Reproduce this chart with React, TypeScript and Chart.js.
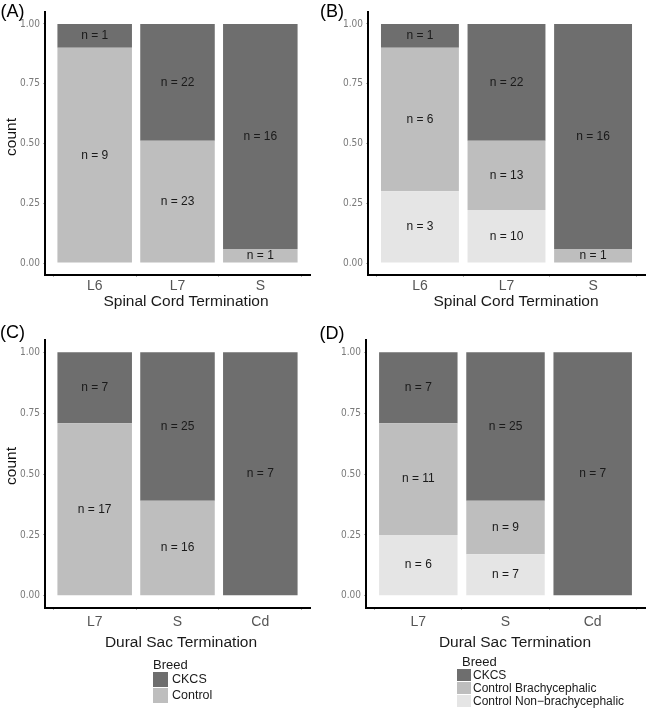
import React, { useEffect, useRef } from 'react';
import { Chart, registerables } from 'chart.js';
Chart.register(...registerables);

// ---------- data ----------
const spinalLevels = ['L6', 'L7', 'S'];
const duralLevels = ['L7', 'S', 'Cd'];

const spinalCKCS = [1, 22, 16];
const spinalControl = [9, 23, 1];
const spinalBrachy = [6, 13, 1];
const spinalNonBrachy = [3, 10, 0];

const duralCKCS = [7, 25, 7];
const duralControl = [17, 16, 0];
const duralBrachy = [11, 9, 0];
const duralNonBrachy = [6, 7, 0];

const yTickValues = [0, 0.25, 0.5, 0.75, 1];

const breedCKCS = 'CKCS';
const breedControl = 'Control';
const breedBrachy = 'Control Brachycephalic';
const breedNonBrachy = 'Control Non\u2212brachycephalic';
const legendTitle = 'Breed';

const spinalTitle = 'Spinal Cord Termination';
const duralTitle = 'Dural Sac Termination';
const yTitle = 'count';

// ---------- styles ----------
const DARK = '#6e6e6e';
const MID = '#bebebe';
const LIGHT = '#e5e5e5';
const SANS = '"Liberation Sans", Arial, sans-serif';
const NARROW = '"Liberation Sans Narrow", "DejaVu Sans Condensed", "Liberation Sans", sans-serif';

type Series = { name: string; counts: number[]; color: string };
type Panel = {
  cats: string[];
  series: Series[]; // bottom first
  box: { left: number; top: number; width: number; height: number };
  area: { left: number; top: number; right: number; bottom: number };
  xPad: number;
};

const panels: Panel[] = [
  {
    cats: spinalLevels,
    series: [
      { name: breedControl, counts: spinalControl, color: MID },
      { name: breedCKCS, counts: spinalCKCS, color: DARK },
    ],
    box: { left: 0, top: 0, width: 320, height: 300 },
    area: { left: 45, top: 12, right: 310, bottom: 275 },
    xPad: 1,
  },
  {
    cats: spinalLevels,
    series: [
      { name: breedNonBrachy, counts: spinalNonBrachy, color: LIGHT },
      { name: breedBrachy, counts: spinalBrachy, color: MID },
      { name: breedCKCS, counts: spinalCKCS, color: DARK },
    ],
    box: { left: 320, top: 0, width: 326, height: 300 },
    area: { left: 48, top: 12, right: 325, bottom: 275 },
    xPad: 1,
  },
  {
    cats: duralLevels,
    series: [
      { name: breedControl, counts: duralControl, color: MID },
      { name: breedCKCS, counts: duralCKCS, color: DARK },
    ],
    box: { left: 0, top: 320, width: 320, height: 315 },
    area: { left: 45, top: 20, right: 310, bottom: 288 },
    xPad: 4,
  },
  {
    cats: duralLevels,
    series: [
      { name: breedNonBrachy, counts: duralNonBrachy, color: LIGHT },
      { name: breedBrachy, counts: duralBrachy, color: MID },
      { name: breedCKCS, counts: duralCKCS, color: DARK },
    ],
    box: { left: 320, top: 320, width: 326, height: 315 },
    area: { left: 46, top: 20, right: 325, bottom: 288 },
    xPad: 4,
  },
];

function PanelChart({ p }: { p: Panel }) {
  const ref = useRef<HTMLCanvasElement | null>(null);
  useEffect(() => {
    if (!ref.current) return;
    const totals = p.cats.map((_, i) => p.series.reduce((s, se) => s + se.counts[i], 0));
    const labelPlugin = {
      id: 'nLabels',
      afterDatasetsDraw(chart: any) {
        const ctx = chart.ctx;
        ctx.save();
        ctx.font = `12px ${SANS}`;
        ctx.fillStyle = '#1a1a1a';
        ctx.textAlign = 'center';
        ctx.textBaseline = 'middle';
        p.series.forEach((se, di) => {
          const meta = chart.getDatasetMeta(di);
          meta.data.forEach((bar: any, i: number) => {
            const c = se.counts[i];
            if (!c) return;
            const { x, y, base } = bar.getProps(['x', 'y', 'base'], true);
            ctx.fillText(`n = ${c}`, x, (y + base) / 2);
          });
        });
        ctx.restore();
      },
    };
    const tickGrid = {
      display: true,
      drawOnChartArea: false,
      drawTicks: true,
      tickLength: 2,
      tickColor: '#b0b0b0',
      tickWidth: 1,
    };
    const chart = new Chart(ref.current, {
      type: 'bar',
      data: {
        datasets: p.series.map((se) => ({
          label: se.name,
          data: se.counts.map((c, i) => ({ x: i + 1, y: c / totals[i] })),
          backgroundColor: se.color,
          borderWidth: 0,
          barPercentage: 0.9,
          categoryPercentage: 1,
        })),
      } as any,
      options: {
        animation: false,
        responsive: false,
        maintainAspectRatio: false,
        layout: {
          padding: { top: p.area.top, left: 0, right: p.box.width - p.area.right, bottom: 0 },
        },
        plugins: { legend: { display: false }, tooltip: { enabled: false } },
        scales: {
          x: {
            type: 'linear',
            stacked: true,
            min: 0.4,
            max: p.cats.length + 0.6,
            offset: false,
            grid: tickGrid,
            border: { display: true, color: '#000', width: 2 },
            afterBuildTicks: (s: any) => {
              s.ticks = p.cats.map((_, i) => ({ value: i + 1 }));
            },
            afterFit: (s: any) => {
              s.height = p.box.height - p.area.bottom;
            },
            ticks: {
              autoSkip: false,
              maxRotation: 0,
              padding: p.xPad,
              color: '#555555',
              font: { family: SANS, size: 14 },
              callback: (v: any) => p.cats[Math.round(v) - 1] ?? '',
            },
          },
          y: {
            type: 'linear',
            stacked: true,
            min: -0.05,
            max: 1.05,
            grid: tickGrid,
            border: { display: true, color: '#000', width: 2 },
            afterBuildTicks: (s: any) => {
              s.ticks = yTickValues.map((v) => ({ value: v }));
            },
            afterFit: (s: any) => {
              s.width = p.area.left;
            },
            ticks: {
              padding: 3,
              color: '#7a7a7a',
              font: { family: NARROW, size: 10 },
              callback: (v: any) => Number(v).toFixed(2),
            },
          },
        },
      } as any,
      plugins: [labelPlugin],
    });
    return () => chart.destroy();
  }, [p]);
  return (
    <canvas
      ref={ref}
      width={p.box.width}
      height={p.box.height}
      style={{ position: 'absolute', left: p.box.left, top: p.box.top, width: p.box.width, height: p.box.height }}
    />
  );
}

function Txt({ x, y, size, color = '#000', children, rotate, align = 'center' }: any) {
  const tx = align === 'center' ? '-50%' : '0';
  return (
    <div
      style={{
        position: 'absolute',
        left: x,
        top: y,
        transform: `translate(${tx}, -50%)${rotate ? ` rotate(${rotate}deg)` : ''}`,
        transformOrigin: align === 'center' ? '50% 50%' : '0 50%',
        fontFamily: SANS,
        fontSize: size,
        color,
        whiteSpace: 'nowrap',
        lineHeight: 1,
      }}
    >
      {children}
    </div>
  );
}

function Swatch({ x, y, w, h, color }: any) {
  return <div style={{ position: 'absolute', left: x, top: y, width: w, height: h, background: color }} />;
}

export default function App() {
  return (
    <div
      style={{
        position: 'absolute',
        left: 0,
        top: 0,
        width: 646,
        height: 709,
        background: '#fff',
        overflow: 'hidden',
      }}
    >
      {panels.map((p, i) => (
        <PanelChart key={i} p={p} />
      ))}
      <Txt x={12.5} y={11} size={18}>(A)</Txt>
      <Txt x={332} y={11} size={18}>(B)</Txt>
      <Txt x={12.5} y={332} size={18}>(C)</Txt>
      <Txt x={332} y={333} size={18}>(D)</Txt>

      <Txt x={11} y={137} size={15.5} color="#111" rotate={-90}>{yTitle}</Txt>
      <Txt x={11} y={466} size={15.5} color="#111" rotate={-90}>{yTitle}</Txt>

      <Txt x={186} y={301} size={15.5} color="#1a1a1a">{spinalTitle}</Txt>
      <Txt x={516} y={301} size={15.5} color="#1a1a1a">{spinalTitle}</Txt>
      <Txt x={181} y={642} size={15.5} color="#1a1a1a">{duralTitle}</Txt>
      <Txt x={515} y={642} size={15.5} color="#1a1a1a">{duralTitle}</Txt>

      {/* legend A/C */}
      <Txt x={153} y={664} size={13} align="left" color="#1a1a1a">{legendTitle}</Txt>
      <Swatch x={153} y={672} w={15} h={15} color={DARK} />
      <Txt x={172} y={679} size={12.5} align="left" color="#1a1a1a">{breedCKCS}</Txt>
      <Swatch x={153} y={688} w={15} h={15} color={MID} />
      <Txt x={172} y={695} size={12.5} align="left" color="#1a1a1a">{breedControl}</Txt>

      {/* legend B/D */}
      <Txt x={462} y={661} size={13} align="left" color="#1a1a1a">{legendTitle}</Txt>
      <Swatch x={457} y={669} w={14} h={12} color={DARK} />
      <Txt x={473} y={675} size={12} align="left" color="#1a1a1a">{breedCKCS}</Txt>
      <Swatch x={457} y={682} w={14} h={12} color={MID} />
      <Txt x={473} y={688} size={12} align="left" color="#1a1a1a">{breedBrachy}</Txt>
      <Swatch x={457} y={695} w={14} h={12} color={LIGHT} />
      <Txt x={473} y={701} size={12} align="left" color="#1a1a1a">{breedNonBrachy}</Txt>
    </div>
  );
}
